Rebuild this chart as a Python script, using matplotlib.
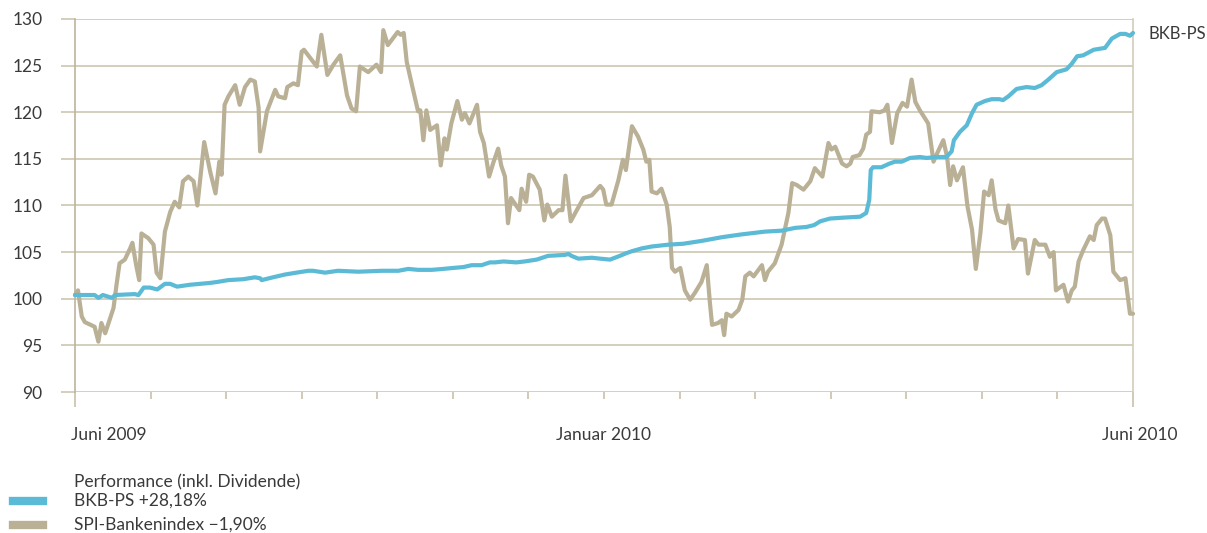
import numpy as np
import matplotlib.pyplot as plt
from matplotlib.lines import Line2D

# x in Monatsintervallen ab Juni 2009 (0 .. 14), y = indexierte Performance
spi_x = [0.00, 0.04, 0.09, 0.13, 0.26, 0.31, 0.35, 0.40, 0.51, 0.55, 0.59, 0.66, 0.73, 0.76, 0.81, 0.85,
         0.88, 0.97, 1.04, 1.08, 1.13, 1.19, 1.26, 1.32, 1.38, 1.43, 1.50, 1.57, 1.62, 1.71, 1.79, 1.86,
         1.91, 1.94, 1.98, 2.03, 2.12, 2.18, 2.25, 2.32, 2.38, 2.43, 2.45, 2.54, 2.65, 2.69, 2.78, 2.81,
         2.89, 2.95, 3.00, 3.03, 3.20, 3.26, 3.34, 3.42, 3.51, 3.60, 3.66, 3.72, 3.77, 3.88, 3.99, 4.05,
         4.08, 4.14, 4.27, 4.31, 4.35, 4.39, 4.46, 4.54, 4.57, 4.61, 4.65, 4.70, 4.79, 4.84, 4.89, 4.92,
         4.98, 5.06, 5.12, 5.16, 5.22, 5.32, 5.36, 5.41, 5.48, 5.54, 5.60, 5.64, 5.69, 5.73, 5.77, 5.88,
         5.91, 5.97, 6.01, 6.06, 6.15, 6.21, 6.25, 6.31, 6.40, 6.45, 6.49, 6.56, 6.64, 6.73, 6.84, 6.95,
         6.99, 7.03, 7.10, 7.19, 7.25, 7.29, 7.37, 7.45, 7.52, 7.56, 7.60, 7.63, 7.70, 7.76, 7.83, 7.87,
         7.90, 7.94, 8.01, 8.07, 8.14, 8.20, 8.29, 8.36, 8.40, 8.43, 8.51, 8.56, 8.59, 8.62, 8.69, 8.78,
         8.83, 8.87, 8.93, 8.98, 9.09, 9.13, 9.17, 9.26, 9.35, 9.44, 9.49, 9.55, 9.64, 9.73, 9.79, 9.89,
         9.97, 10.01, 10.06, 10.15, 10.21, 10.26, 10.29, 10.38, 10.43, 10.47, 10.52, 10.54, 10.65, 10.71,
         10.75, 10.81, 10.88, 10.95, 11.01, 11.07, 11.12, 11.18, 11.29, 11.36, 11.42, 11.49, 11.54, 11.58,
         11.62, 11.67, 11.75, 11.81, 11.87, 11.92, 11.98, 12.03, 12.09, 12.13, 12.18, 12.22, 12.31, 12.35,
         12.42, 12.48, 12.57, 12.61, 12.70, 12.75, 12.84, 12.90, 12.95, 12.98, 13.08, 13.14, 13.19, 13.23,
         13.28, 13.34, 13.43, 13.48, 13.52, 13.59, 13.63, 13.70, 13.74, 13.83, 13.90, 13.96, 14.00]
spi_y = [100.4, 100.9, 98.1, 97.5, 97.0, 95.4, 97.4, 96.3, 99.0, 101.5, 103.8, 104.2, 105.4, 106.0, 103.6, 102.0,
         107.0, 106.5, 105.8, 102.8, 102.2, 107.2, 109.3, 110.4, 109.8, 112.6, 113.1, 112.6, 110.0, 116.8, 113.6, 111.3,
         114.7, 113.3, 120.8, 121.7, 122.9, 120.8, 122.7, 123.5, 123.3, 120.5, 115.8, 120.1, 122.4, 121.7, 121.5, 122.7,
         123.1, 122.9, 126.5, 126.7, 124.9, 128.3, 124.0, 125.1, 126.1, 121.8, 120.4, 120.1, 124.9, 124.3, 125.1, 124.3,
         128.8, 127.2, 128.6, 128.3, 128.5, 125.4, 122.9, 120.1, 120.2, 117.0, 120.2, 118.1, 118.6, 114.3, 117.2, 116.0,
         118.8, 121.2, 119.2, 119.9, 118.8, 120.8, 117.9, 116.7, 113.1, 114.7, 116.1, 114.3, 113.1, 108.1, 110.8, 109.5,
         111.8, 110.4, 113.3, 113.1, 111.7, 108.4, 110.1, 108.8, 109.5, 109.5, 113.2, 108.3, 109.5, 110.8, 111.1, 112.1,
         111.7, 110.1, 110.1, 112.7, 114.9, 113.8, 118.5, 117.4, 116.0, 114.7, 114.9, 111.5, 111.3, 111.8, 110.1, 107.7,
         103.3, 102.9, 103.3, 100.9, 99.9, 100.6, 101.8, 103.6, 99.7, 97.2, 97.4, 97.7, 96.1, 98.4, 98.1, 98.8,
         99.9, 102.4, 102.8, 102.4, 103.6, 102.0, 102.9, 103.8, 105.8, 109.2, 112.4, 112.2, 111.7, 112.6, 114.0, 113.1,
         116.7, 116.0, 116.3, 114.5, 114.2, 114.5, 115.2, 115.4, 116.1, 117.6, 117.9, 120.1, 120.0, 120.2,
         120.8, 116.7, 119.9, 121.0, 120.6, 123.5, 121.1, 120.2, 118.8, 114.7, 115.8, 117.0, 115.2, 112.2,
         114.2, 112.7, 114.1, 109.9, 107.4, 103.2, 107.0, 111.5, 111.1, 112.7, 109.6, 108.4, 108.1, 110.0,
         105.4, 106.4, 106.3, 102.7, 106.3, 105.8, 105.8, 104.5, 105.0, 100.9, 101.5, 99.7, 100.9, 101.3,
         104.0, 105.2, 106.7, 106.3, 107.9, 108.6, 108.6, 106.8, 102.9, 102.0, 102.2, 98.4, 98.4]

bkb_x = [0.00, 0.26, 0.31, 0.37, 0.49, 0.53, 0.79, 0.84, 0.91, 0.99, 1.09, 1.19, 1.26, 1.35, 1.52, 1.79,
         1.88, 2.03, 2.23, 2.38, 2.45, 2.47, 2.62, 2.78, 2.93, 3.09, 3.15, 3.31, 3.48, 3.75, 4.06, 4.28,
         4.41, 4.54, 4.72, 4.87, 5.00, 5.14, 5.25, 5.38, 5.49, 5.56, 5.67, 5.84, 5.95, 6.11, 6.26, 6.48,
         6.53, 6.57, 6.66, 6.84, 6.95, 7.08, 7.21, 7.30, 7.37, 7.50, 7.63, 7.85, 8.05, 8.29, 8.56, 8.82,
         9.13, 9.35, 9.53, 9.68, 9.78, 9.86, 9.99, 10.17, 10.39, 10.47, 10.51, 10.53, 10.56, 10.67, 10.78,
         10.85, 10.94, 11.05, 11.18, 11.27, 11.40, 11.53, 11.60, 11.63, 11.71, 11.80, 11.87, 11.93, 12.04,
         12.13, 12.23, 12.28, 12.35, 12.46, 12.59, 12.70, 12.79, 12.88, 12.99, 13.12, 13.19, 13.26, 13.34,
         13.48, 13.63, 13.72, 13.83, 13.90, 13.96, 14.00]
bkb_y = [100.4, 100.4, 100.1, 100.4, 100.1, 100.4, 100.5, 100.4, 101.2, 101.2, 101.0, 101.6, 101.6, 101.3, 101.5, 101.7,
         101.8, 102.0, 102.1, 102.3, 102.2, 102.0, 102.3, 102.6, 102.8, 103.0, 103.0, 102.8, 103.0, 102.9, 103.0, 103.0,
         103.2, 103.1, 103.1, 103.2, 103.3, 103.4, 103.6, 103.6, 103.9, 103.9, 104.0, 103.9, 104.0, 104.2, 104.6, 104.7,
         104.8, 104.6, 104.3, 104.4, 104.3, 104.2, 104.6, 104.9, 105.1, 105.4, 105.6, 105.8, 105.9, 106.2, 106.6, 106.9,
         107.2, 107.3, 107.6, 107.7, 107.9, 108.3, 108.6, 108.7, 108.8, 109.2, 110.6, 113.8, 114.1, 114.1, 114.5,
         114.7, 114.7, 115.1, 115.2, 115.1, 115.2, 115.2, 115.8, 117.0, 117.9, 118.6, 119.9, 120.8, 121.2,
         121.4, 121.4, 121.3, 121.7, 122.5, 122.7, 122.6, 122.9, 123.5, 124.3, 124.6, 125.2, 126.0, 126.1,
         126.7, 126.9, 127.9, 128.4, 128.4, 128.2, 128.5]

y_ticks = [90, 95, 100, 105, 110, 115, 120, 125, 130]
x_labels = ["Juni 2009", "Januar 2010", "Juni 2010"]
legend_title = "Performance (inkl. Dividende)"
legend_labels = ["BKB-PS +28,18%", "SPI-Bankenindex \u22121,90%"]

grid_col = "#c9c1ab"
tan = "#b9b096"
blue = "#5bbad6"
txt = "#3a3a3a"
fs = 12.5
plt.rcParams['font.family'] = ['Lato', 'DejaVu Sans']

fig = plt.figure(figsize=(12.07, 5.33), dpi=100)
ax = fig.add_axes([0.0621, 0.2645, 0.8766, 0.6999])
ax.set_xlim(0, 14)
ax.set_ylim(90, 130)

for s in ["top", "bottom"]:
    ax.spines[s].set_visible(False)
ax.spines["left"].set_color("#bdb49c")
ax.spines["right"].set_color("#d3ccbb")
ax.spines["left"].set_linewidth(1.2)
ax.spines["right"].set_linewidth(1.2)

ax.set_yticks(y_ticks)
ax.yaxis.grid(True, color=grid_col, lw=1.1)
ax.set_axisbelow(True)
ax.tick_params(axis="y", length=10, width=1.1, color=grid_col, pad=13.5,
               labelsize=fs, labelcolor=txt)

ax.set_xticks([0, 14])
ax.set_xticks(range(1, 14), minor=True)
ax.set_xticklabels([])
ax.tick_params(axis="x", which="major", length=10.5, width=1.2, color="#c9c1ab")
ax.tick_params(axis="x", which="minor", length=5, width=1.2, color="#c9c1ab")

ax.plot(spi_x, spi_y, color=tan, lw=3.0, solid_joinstyle="round", solid_capstyle="round", clip_on=False, zorder=3)
ax.plot(bkb_x, bkb_y, color=blue, lw=3.0, solid_joinstyle="round", solid_capstyle="round", clip_on=False, zorder=4)

# x-Beschriftungen
ax.text(-0.05, -0.115, x_labels[0], transform=ax.get_xaxis_transform(), ha="left", va="center",
        fontsize=fs, color=txt)
ax.text(7, -0.115, x_labels[1], transform=ax.get_xaxis_transform(), ha="center", va="center",
        fontsize=fs, color=txt)
ax.text(13.59, -0.115, x_labels[2], transform=ax.get_xaxis_transform(), ha="left", va="center",
        fontsize=fs, color=txt)

ax.annotate("BKB-PS", xy=(bkb_x[-1], bkb_y[-1]), xytext=(11, -1), textcoords="offset points",
            ha="left", va="center", fontsize=12, color=txt, annotation_clip=False)

# Legende
fig.text(74 / 1207, 1 - 482 / 533, legend_title, ha="left", va="center", fontsize=fs, color=txt)
for i, (lab, col) in enumerate(zip(legend_labels, [blue, tan])):
    yc = 1 - (501 + 23.5 * i) / 533
    fig.add_artist(Line2D([13 / 1207, 43 / 1207], [yc, yc], color=col, lw=6, transform=fig.transFigure))
    fig.text(74 / 1207, yc, lab, ha="left", va="center", fontsize=fs, color=txt)

fig.savefig("out.png", dpi=100)
